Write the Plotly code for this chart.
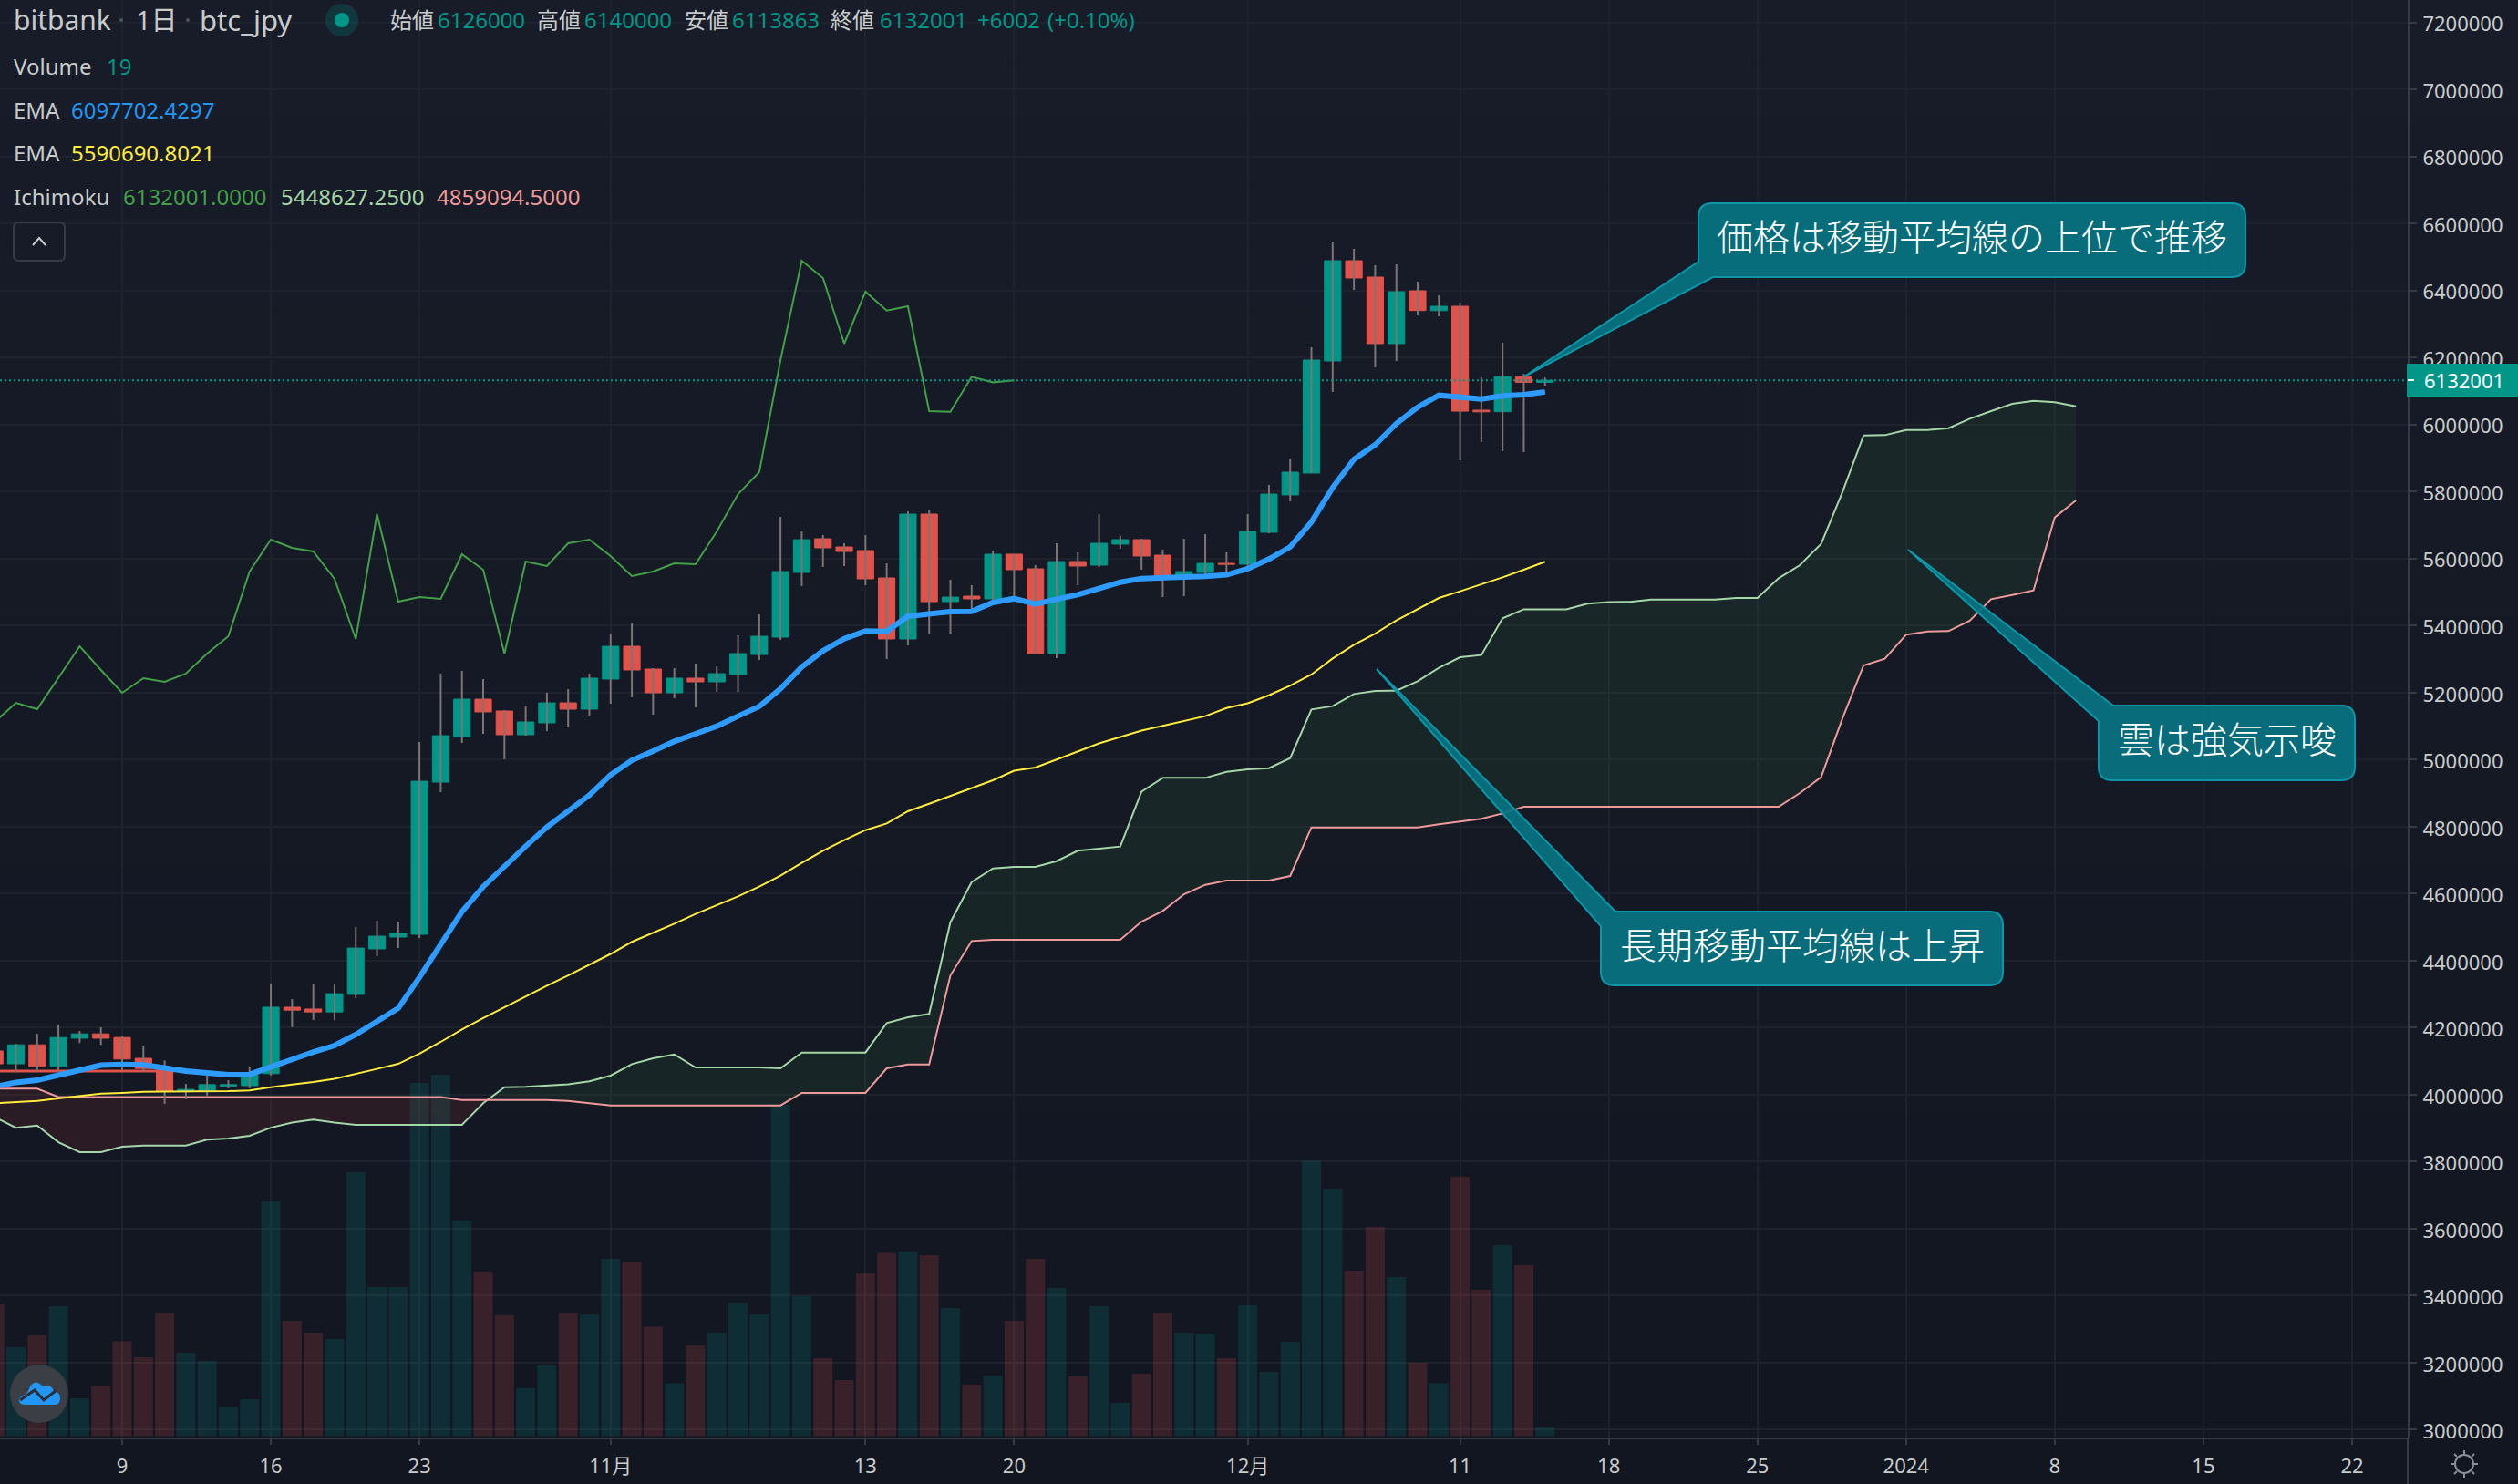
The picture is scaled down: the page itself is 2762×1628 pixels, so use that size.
import pandas as pd
import plotly.graph_objects as go

W, H = 2762, 1628
AXIS_X, AXIS_Y = 2641, 1577

GREEN = "#009688"
RED = "#e0534a"
WICK = "#7d7474"
GRID = "#1e222d"
AXIS = "#363a45"
LABEL = "#c8cbcb"
FONT = "Noto Sans, Noto Sans CJK JP"

dates = pd.date_range("2023-10-03", "2023-12-15").strftime("%Y-%m-%d").tolist()
cloud_dates = pd.date_range("2023-10-03", "2024-01-09").strftime("%Y-%m-%d").tolist()
chikou_dates = pd.date_range("2023-10-03", "2023-11-20").strftime("%Y-%m-%d").tolist()

opens = [
    4130300, 4092100, 4148800, 4084500, 4168400, 4181500, 4170600, 4108500, 4080100, 4010400,
    4012600, 4025700, 4026800, 4062700, 4261000, 4255600, 4246900, 4299200, 4435000, 4470300,
    4478500, 4932800, 5068800, 5180400, 5145100, 5074300, 5109700, 5169500, 5150500,
    5240300, 5338200, 5270200, 5199500, 5243000, 5232100, 5253900, 5313700, 5365400, 5558600,
    5659300, 5634800, 5623900, 5542300, 5360000, 5732700, 5471500, 5487900, 5479700, 5613000,
    5569500, 5316400, 5591300, 5580400, 5643000, 5656600, 5610300, 5547700, 5558600, 5585800,
    5583100, 5678300, 5790000, 5855200, 6189800, 6489100, 6440100, 6241500, 6399300, 6340000,
    6353000, 6043000, 6038400, 6143000, 6126000,
]
highs = [
    4150000, 4152100, 4181500, 4208700, 4190200, 4201100, 4176000, 4146600, 4102000, 4032200,
    4062700, 4043100, 4084500, 4331900, 4285000, 4328600, 4328600, 4500700, 4519200, 4516500,
    5052500, 5256600, 5264600, 5240300, 5147800, 5158700, 5199500, 5210300, 5256600,
    5373600, 5406200, 5272900, 5272900, 5286500, 5278400, 5370900, 5433400, 5724600, 5681000,
    5670100, 5645700, 5670100, 5585800, 5740900, 5743600, 5536800, 5520500, 5623900, 5613000,
    5580400, 5645700, 5618500, 5732700, 5667400, 5659300, 5626600, 5659300, 5672900, 5618500,
    5732700, 5819800, 5898700, 6230600, 6546200, 6524500, 6475500, 6478200, 6426500, 6385700,
    6364000, 6140800, 6244200, 6151700, 6140000,
]
lows = [
    4080000, 4067000, 4070300, 4067000, 4154200, 4148800, 4073600, 4069200, 3972300, 3986400,
    3997300, 4019100, 4019100, 4057300, 4201100, 4222900, 4222900, 4288300, 4413200, 4437700,
    4467600, 4902900, 5049800, 5077000, 5000900, 5071600, 5085200, 5096100, 5131500,
    5166800, 5185900, 5134200, 5183100, 5155900, 5202200, 5202200, 5297400, 5357300, 5517800,
    5574900, 5577600, 5520500, 5300100, 5340900, 5373600, 5376300, 5437000, 5460600, 5471600,
    5316400, 5302800, 5520500, 5575000, 5629400, 5566800, 5485200, 5487900, 5547700, 5547700,
    5569500, 5675600, 5770800, 5855200, 6097300, 6402000, 6170800, 6189800, 6325800, 6323100,
    5893200, 5947700, 5920400, 5917800, 6113863,
]
closes = [
    4092100, 4148800, 4084500, 4170600, 4181500, 4168400, 4106300, 4078000, 4010400, 4015800,
    4030000, 4030000, 4064900, 4261000, 4252300, 4246900, 4301300, 4437500, 4473000, 4481200,
    4935500, 5071600, 5180400, 5142400, 5074300, 5112400, 5169500, 5150500, 5243000,
    5338200, 5267500, 5199500, 5243000, 5232100, 5256600, 5316500, 5368100, 5561300, 5656500,
    5632100, 5621200, 5539600, 5360000, 5732700, 5471500, 5485100, 5479700, 5613000, 5566800,
    5316400, 5591300, 5577700, 5645700, 5656600, 5607600, 5547700, 5561300, 5585800, 5583100,
    5681000, 5792600, 5857900, 6192500, 6489100, 6437400, 6241500, 6396600, 6340300, 6353000,
    6040000, 6038000, 6142600, 6126000, 6132001,
]
volumes = [
    290, 195, 222, 285, 83, 111, 208, 173, 271, 183,
    165, 63, 81, 515, 253, 227, 213, 579, 327, 327,
    775, 793, 473, 361, 265, 105, 155, 271, 267,
    389, 383, 240, 116, 199, 227, 293, 267, 727, 307,
    171, 123, 357, 402, 405, 397, 281, 113, 133, 253,
    389, 325, 131, 285, 73, 137, 271, 227, 225, 171,
    287, 141, 207, 604, 543, 363, 459, 349, 161, 116,
    569, 321, 419, 375, 19,
]
ema_short = [
    4023500, 4036600, 4043100, 4059400, 4074700, 4087800, 4090000, 4088900, 4080100, 4070300,
    4064900, 4059400, 4060500, 4081200, 4105200, 4127000, 4146600, 4179300, 4216300, 4257800,
    4350400, 4451300, 4546500, 4620800, 4682500, 4741500, 4798600, 4845800, 4893900,
    4954600, 4998100, 5025300, 5054400, 5077000, 5099700, 5129700, 5158700, 5211300, 5276600,
    5324600, 5360900, 5383600, 5382700, 5428000, 5435300, 5441600, 5442500, 5468800, 5480600,
    5464300, 5478800, 5492400, 5510500, 5529600, 5540500, 5541400, 5542300, 5546800, 5551400,
    5569500, 5598500, 5634800, 5709100, 5811600, 5896000, 5939500, 6003000, 6052000, 6087300,
    6081000, 6076400, 6085500, 6089100, 6097702,
]
ema_long = [
    3974500, 3977700, 3981000, 3988600, 3996300, 4002800, 4005000, 4008200, 4009300, 4009300,
    4009300, 4010400, 4012600, 4022400, 4030000, 4037600, 4047500, 4061600, 4076900, 4092100,
    4122600, 4157500, 4194500, 4228300, 4261000, 4293700, 4325300, 4355800, 4387400,
    4420000, 4456000, 4483000, 4510200, 4539200, 4564600, 4591800, 4620800, 4653500, 4691600,
    4727800, 4759600, 4789500, 4809500, 4845800, 4868400, 4891100, 4913800, 4938300, 4966800,
    4976400, 5000300, 5024300, 5048300, 5067500, 5086700, 5101000, 5115400, 5129800, 5153800,
    5168200, 5192100, 5221000, 5253900, 5301900, 5342800, 5376300, 5415300, 5448800, 5482400,
    5502400, 5522400, 5544100, 5566800, 5590691,
]
span_a = [
    3933000, 3901400, 3908000, 3857900, 3828400, 3828400, 3844800, 3848100, 3848100, 3848100,
    3865500, 3868800, 3877500, 3901400, 3916700, 3925400, 3916700, 3910200, 3910200, 3910200,
    3910200, 3910200, 3910200, 3974500, 4022400, 4023500, 4027800, 4031100, 4039800,
    4056800, 4091200, 4108500, 4120200, 4081300, 4081300, 4081300, 4081300, 4078500, 4125700,
    4125700, 4125700, 4125700, 4213700, 4230900, 4240900, 4514800, 4634500, 4675300, 4679800,
    4679800, 4697000, 4727900, 4734200, 4740600, 4904700, 4945500, 4945500, 4945500, 4963700,
    4970900, 4974600, 5004500, 5149600, 5159600, 5195800, 5204900, 5205800, 5233900, 5273800,
    5305600, 5311900, 5421700, 5448627, 5448627, 5448627, 5465200, 5470000, 5471000, 5477900,
    5477900, 5477900, 5477900, 5482400, 5482400, 5541400, 5580400, 5643800, 5798000, 5967600,
    5968500, 5983900, 5983900, 5989400, 6017500, 6040200, 6061900, 6071000, 6066500, 6054700,
]
span_b = [
    4018000, 4018000, 4018000, 3993000, 3993000, 3993000, 3993000, 3993000, 3993000, 3993000,
    3993000, 3993000, 3993000, 3993000, 3993000, 3993000, 3993000, 3993000, 3993000, 3993000,
    3993000, 3993000, 3984300, 3984300, 3984300, 3984300, 3984300, 3981000, 3974500,
    3967900, 3967900, 3967900, 3967900, 3967900, 3967900, 3967900, 3967900, 3967900, 4005100,
    4005100, 4005100, 4005100, 4078500, 4090300, 4090300, 4356000, 4458500, 4462200, 4462200,
    4462200, 4462200, 4462200, 4462200, 4462200, 4516600, 4548300, 4598200, 4626300, 4639000,
    4639000, 4639000, 4652600, 4797700, 4797700, 4797700, 4797700, 4797700, 4797700, 4806800,
    4815000, 4823100, 4839400, 4859094, 4859094, 4859094, 4859094, 4859094, 4859094, 4859094,
    4859094, 4859094, 4859094, 4859094, 4859094, 4859094, 4900200, 4947400, 5122400, 5281100,
    5301000, 5372700, 5382700, 5383600, 5414400, 5478800, 5491500, 5505100, 5722700, 5773500,
]
chikou = [
    5112400, 5169500, 5150500, 5243000, 5338200, 5267500, 5199500, 5243000, 5232100, 5256600,
    5316500, 5368100, 5561300, 5656500, 5632100, 5621200, 5539600, 5360000, 5732700, 5471500,
    5485100, 5479700, 5613000, 5566800, 5316400, 5591300, 5577700, 5645700, 5656600, 5607600,
    5547700, 5561300, 5585800, 5583100, 5681000, 5792600, 5857900, 6192500, 6489100, 6437400,
    6241500, 6396600, 6340300, 6353000, 6040000, 6038000, 6142600, 6126000, 6132001,
]
red_level_dates = ["2023-10-03", "2023-10-11"]
red_level = [4070300, 4070300]
last_price = 6132001

tick_dates = [
    "2023-10-09", "2023-10-16", "2023-10-23", "2023-11-01", "2023-11-13", "2023-11-20", "2023-12-01",
    "2023-12-11", "2023-12-18", "2023-12-25", "2024-01-01", "2024-01-08", "2024-01-15", "2024-01-22",
]
tick_labels = ["9", "16", "23", "11月", "13", "20", "12月", "11", "18", "25", "2024", "8", "15", "22"]
price_ticks = list(range(3000000, 7400000, 200000))

callouts = [
    ("価格は移動平均線の上位で推移", (1863, 223, 2463, 304), (1672, 413), 287, 1879, "bottom"),
    ("長期移動平均線は上昇", (1756, 1000, 2197, 1081), (1510, 734), 1016, 1772, "top"),
    ("雲は強気示唆", (2302, 774, 2583, 856), (2093, 603), 791, 2318, "top"),
]


def xf(x):
    return x / W


def yf(y):
    return 1 - y / H


def pt(x, y):
    return f"{xf(x):.5f} {yf(y):.5f}"


def callout_path(box, tip, join_y, join_x, corner, rad=15):
    l, t, r, b = box
    if corner == "bottom":
        return (
            f"M {pt(l + rad, t)} L {pt(r - rad, t)} Q {pt(r, t)} {pt(r, t + rad)} "
            f"L {pt(r, b - rad)} Q {pt(r, b)} {pt(r - rad, b)} L {pt(join_x, b)} "
            f"L {pt(*tip)} L {pt(l, join_y)} L {pt(l, t + rad)} Q {pt(l, t)} {pt(l + rad, t)} Z"
        )
    return (
        f"M {pt(join_x, t)} L {pt(r - rad, t)} Q {pt(r, t)} {pt(r, t + rad)} "
        f"L {pt(r, b - rad)} Q {pt(r, b)} {pt(r - rad, b)} L {pt(l + rad, b)} "
        f"Q {pt(l, b)} {pt(l, b - rad)} L {pt(l, join_y)} L {pt(*tip)} Z"
    )


def cloud_segments(x, a, b):
    # split the cloud where the two spans cross, so each part gets its own fill
    stamps = pd.to_datetime(x)
    parts = []
    seg_x, seg_a, seg_b = [stamps[0]], [a[0]], [b[0]]
    for i in range(1, len(x)):
        if (a[i] - b[i]) * (a[i - 1] - b[i - 1]) < 0:
            gap_now, gap_prev = a[i] - b[i], a[i - 1] - b[i - 1]
            t = gap_prev / (gap_prev - gap_now)
            cross_x = stamps[i - 1] + (stamps[i] - stamps[i - 1]) * t
            cross_y = a[i - 1] + (a[i] - a[i - 1]) * t
            seg_x.append(cross_x)
            seg_a.append(cross_y)
            seg_b.append(cross_y)
            parts.append((seg_x, seg_a, seg_b, gap_prev > 0))
            seg_x, seg_a, seg_b = [cross_x], [cross_y], [cross_y]
        seg_x.append(stamps[i])
        seg_a.append(a[i])
        seg_b.append(b[i])
    parts.append((seg_x, seg_a, seg_b, a[-1] > b[-1]))
    return parts


def legend_note(x, y, text, size=24, color=LABEL):
    return dict(
        x=xf(x), y=yf(y), xref="paper", yref="paper", xanchor="left", yanchor="middle",
        text=text, showarrow=False, borderpad=0, font=dict(family=FONT, size=size, color=color),
    )


fig = go.Figure()

# volume sits on the base axis so that everything else draws over it
fig.add_trace(
    go.Bar(
        x=dates,
        y=volumes,
        yaxis="y",
        marker_color=[
            "rgba(0,150,136,0.18)" if c >= o else "rgba(239,83,80,0.18)" for o, c in zip(opens, closes)
        ],
        marker_line_width=0,
    )
)

for seg_x, seg_a, seg_b, bullish in cloud_segments(cloud_dates, span_a, span_b):
    fig.add_trace(go.Scatter(x=seg_x, y=seg_b, yaxis="y2", mode="lines", line=dict(width=0), hoverinfo="skip"))
    fig.add_trace(
        go.Scatter(
            x=seg_x, y=seg_a, yaxis="y2", mode="lines", line=dict(width=0), fill="tonexty",
            fillcolor="rgba(67,160,71,0.1)" if bullish else "rgba(244,67,54,0.1)", hoverinfo="skip",
        )
    )

fig.add_trace(go.Scatter(x=cloud_dates, y=span_a, yaxis="y2", mode="lines", line=dict(color="#a5d6a7", width=2)))
fig.add_trace(go.Scatter(x=cloud_dates, y=span_b, yaxis="y2", mode="lines", line=dict(color="#ef9a9a", width=2)))
fig.add_trace(go.Scatter(x=chikou_dates, y=chikou, yaxis="y2", mode="lines", line=dict(color="#43a047", width=2)))
fig.add_trace(go.Scatter(x=red_level_dates, y=red_level, yaxis="y2", mode="lines", line=dict(color=RED, width=3)))

wick_x, wick_y = [], []
for day, high, low in zip(dates, highs, lows):
    wick_x += [day, day, None]
    wick_y += [low, high, None]
fig.add_trace(go.Scatter(x=wick_x, y=wick_y, yaxis="y2", mode="lines", line=dict(color=WICK, width=2)))

fig.add_trace(
    go.Candlestick(
        x=dates,
        open=opens,
        close=closes,
        high=[max(o, c) for o, c in zip(opens, closes)],
        low=[min(o, c) for o, c in zip(opens, closes)],
        yaxis="y2",
        whiskerwidth=0,
        increasing=dict(line=dict(color=GREEN, width=1), fillcolor=GREEN),
        decreasing=dict(line=dict(color=RED, width=1), fillcolor=RED),
    )
)

fig.add_trace(go.Scatter(x=dates, y=ema_long, yaxis="y2", mode="lines", line=dict(color="#ffeb3b", width=2)))
fig.add_trace(go.Scatter(x=dates, y=ema_short, yaxis="y2", mode="lines", line=dict(color="#2e9bff", width=6)))

shapes = []

# the page background darkens slightly towards the bottom
bands = 24
top_rgb, bottom_rgb = (23, 28, 40), (18, 22, 33)
for i in range(bands):
    mix = i / (bands - 1)
    rgb = [round(a + (b - a) * mix) for a, b in zip(top_rgb, bottom_rgb)]
    shapes.append(
        dict(
            type="rect", xref="paper", yref="paper", x0=0, x1=1,
            y0=1 - i / bands, y1=1 - (i + 1) / bands, layer="below",
            fillcolor=f"rgb({rgb[0]},{rgb[1]},{rgb[2]})", line_width=0,
        )
    )

shapes.append(
    dict(
        type="line", xref="paper", yref="y2", x0=0, x1=xf(AXIS_X), y0=last_price, y1=last_price,
        line=dict(color=GREEN, width=2, dash="2px,3px"),
    )
)
# corner under the price scale, hides the clipped bottom tick label like the original
shapes.append(
    dict(
        type="rect", xref="paper", yref="paper", x0=xf(AXIS_X), x1=1, y0=yf(AXIS_Y + 1), y1=0,
        fillcolor="rgb(18,22,33)", line_width=0,
    )
)
shapes.append(
    dict(
        type="line", xref="paper", yref="paper", x0=xf(AXIS_X), x1=xf(AXIS_X), y0=yf(AXIS_Y), y1=0,
        line=dict(color=AXIS, width=2),
    )
)
# last price tag
shapes.append(
    dict(type="rect", xref="paper", yref="paper", x0=xf(2640), x1=1, y0=yf(399), y1=yf(435), fillcolor=GREEN, line_width=0)
)
shapes.append(
    dict(type="line", xref="paper", yref="paper", x0=xf(2641), x1=xf(2648), y0=yf(417), y1=yf(417), line=dict(color="white", width=2))
)
# collapse button in the legend
shapes.append(
    dict(
        type="path", xref="paper", yref="paper",
        path=(
            f"M {pt(21, 244)} L {pt(65, 244)} Q {pt(71, 244)} {pt(71, 250)} L {pt(71, 280)} "
            f"Q {pt(71, 286)} {pt(65, 286)} L {pt(21, 286)} Q {pt(15, 286)} {pt(15, 280)} "
            f"L {pt(15, 250)} Q {pt(15, 244)} {pt(21, 244)} Z"
        ),
        line=dict(color=AXIS, width=2),
    )
)
shapes.append(
    dict(
        type="path", xref="paper", yref="paper", path=f"M {pt(36, 269)} L {pt(43, 261)} L {pt(50, 269)}",
        line=dict(color=LABEL, width=2),
    )
)
# status dot
shapes.append(
    dict(type="circle", xref="paper", yref="paper", x0=xf(357), x1=xf(393), y0=yf(4), y1=yf(40), fillcolor="rgba(0,150,136,0.22)", line_width=0)
)
shapes.append(
    dict(type="circle", xref="paper", yref="paper", x0=xf(367), x1=xf(383), y0=yf(14), y1=yf(30), fillcolor=GREEN, line_width=0)
)
for dot_x in (133, 206):
    shapes.append(
        dict(type="circle", xref="paper", yref="paper", x0=xf(dot_x - 2), x1=xf(dot_x + 2), y0=yf(20), y1=yf(24), fillcolor="#50535c", line_width=0)
    )
# logo, bottom left
shapes.append(
    dict(type="circle", xref="paper", yref="paper", x0=xf(11), x1=xf(75), y0=yf(1497), y1=yf(1561), fillcolor="#3b3e45", line_width=0)
)
shapes.append(
    dict(
        type="path", xref="paper", yref="paper",
        path=(
            f"M {pt(27, 1541)} L {pt(60, 1541)} Q {pt(66, 1541)} {pt(66, 1534)} Q {pt(66, 1527)} {pt(59, 1526)} "
            f"Q {pt(55, 1517)} {pt(47, 1521)} Q {pt(39, 1512)} {pt(33, 1521)} Q {pt(31, 1528)} {pt(27, 1530)} "
            f"Q {pt(20, 1533)} {pt(21, 1537)} Q {pt(22, 1541)} {pt(27, 1541)} Z"
        ),
        fillcolor="#2196f3", line_width=0,
    )
)
shapes.append(
    dict(
        type="path", xref="paper", yref="paper",
        path=f"M {pt(22, 1536)} L {pt(38, 1525)} L {pt(48, 1536)} L {pt(62, 1525)}",
        line=dict(color="#2a2d33", width=3),
    )
)
# sun icon, bottom right
shapes.append(
    dict(type="circle", xref="paper", yref="paper", x0=xf(2693), x1=xf(2713), y0=yf(1596), y1=yf(1616), line=dict(color="#8a8e98", width=2))
)
for x0, y0, x1, y1 in [
    (2703, 1591, 2703, 1595), (2703, 1617, 2703, 1621), (2688, 1606, 2692, 1606), (2714, 1606, 2718, 1606),
    (2692, 1595, 2695, 1598), (2711, 1614, 2714, 1617), (2692, 1617, 2695, 1614), (2711, 1598, 2714, 1595),
]:
    shapes.append(
        dict(type="line", xref="paper", yref="paper", x0=xf(x0), x1=xf(x1), y0=yf(y0), y1=yf(y1), line=dict(color="#8a8e98", width=2))
    )

annotations = [
    legend_note(14, 22, "bitbank", size=30),
    legend_note(148, 22, "1日", size=29),
    legend_note(218, 22, "btc_jpy", size=31),
    legend_note(427, 22, "始値"),
    legend_note(479, 22, "6126000", color=GREEN),
    legend_note(588, 22, "高値"),
    legend_note(640, 22, "6140000", color=GREEN),
    legend_note(750, 22, "安値"),
    legend_note(802, 22, "6113863", color=GREEN),
    legend_note(910, 22, "終値"),
    legend_note(964, 22, "6132001", color=GREEN),
    legend_note(1071, 22, "+6002", color=GREEN),
    legend_note(1148, 22, "(+0.10%)", color=GREEN),
    legend_note(14, 72, "Volume"),
    legend_note(116, 72, "19", color=GREEN),
    legend_note(14, 120, "EMA"),
    legend_note(77, 120, "6097702.4297", color="#2196f3"),
    legend_note(14, 168, "EMA"),
    legend_note(77, 168, "5590690.8021", color="#ffeb3b"),
    legend_note(14, 215, "Ichimoku"),
    legend_note(134, 215, "6132001.0000", color="#43a047"),
    legend_note(307, 215, "5448627.2500", color="#a5d6a7"),
    legend_note(478, 215, "4859094.5000", color="#ef9a9a"),
    legend_note(2658, 417, str(last_price), size=22, color="white"),
]

for text, box, tip, join_y, join_x, corner in callouts:
    shapes.append(
        dict(
            type="path", xref="paper", yref="paper", path=callout_path(box, tip, join_y, join_x, corner),
            fillcolor="rgba(7,115,130,0.93)", line=dict(color="#0d95a8", width=2),
        )
    )
    annotations.append(
        dict(
            x=xf((box[0] + box[2]) / 2), y=yf((box[1] + box[3]) / 2 - 6), xref="paper", yref="paper",
            xanchor="center", yanchor="middle", text=text, showarrow=False, borderpad=0,
            font=dict(family="Noto Sans CJK JP", size=40, color="white", weight=300),
        )
    )

fig.update_layout(
    width=W,
    height=H,
    margin=dict(l=0, r=0, t=0, b=0),
    paper_bgcolor="rgb(20,25,36)",
    plot_bgcolor="rgba(0,0,0,0)",
    showlegend=False,
    bargap=0.1,
    boxgap=0.22,
    boxgroupgap=0,
    hovermode=False,
    font=dict(family=FONT, size=22, color=LABEL),
    xaxis=dict(
        domain=[0, AXIS_X / W],
        automargin=False,
        type="date",
        range=["2023-10-03 05:57", "2024-01-24 14:52"],
        rangeslider=dict(visible=False),
        tickvals=tick_dates,
        ticktext=tick_labels,
        tickangle=0,
        ticks="outside",
        ticklen=6,
        tickwidth=2,
        tickcolor=AXIS,
        showline=True,
        linecolor=AXIS,
        linewidth=2,
        gridcolor=GRID,
        gridwidth=2,
        zeroline=False,
        ticklabelstandoff=5,
        tickfont=dict(family=FONT, size=22, color=LABEL),
    ),
    yaxis=dict(
        domain=[(H - AXIS_Y) / H, 1],
        automargin=False,
        range=[-3, 3151],
        visible=False,
        showgrid=False,
        zeroline=False,
    ),
    yaxis2=dict(
        overlaying="y",
        anchor="x",
        automargin=False,
        side="right",
        range=[2976700, 7267200],
        tickvals=price_ticks,
        tickformat="d",
        ticks="outside",
        ticklen=8,
        tickwidth=2,
        tickcolor=AXIS,
        showline=True,
        linecolor=AXIS,
        linewidth=2,
        gridcolor=GRID,
        gridwidth=2,
        zeroline=False,
        ticklabelstandoff=2,
        ticklabelshift=2,
        tickfont=dict(family=FONT, size=22, color=LABEL),
    ),
    shapes=shapes,
    annotations=annotations,
)

fig.write_html(
    "out.html",
    config=dict(displayModeBar=False),
    post_script=(
        "document.documentElement.style.overflow='hidden';"
        "document.body.style.margin='0';"
        "document.body.style.overflow='hidden';"
    ),
)
